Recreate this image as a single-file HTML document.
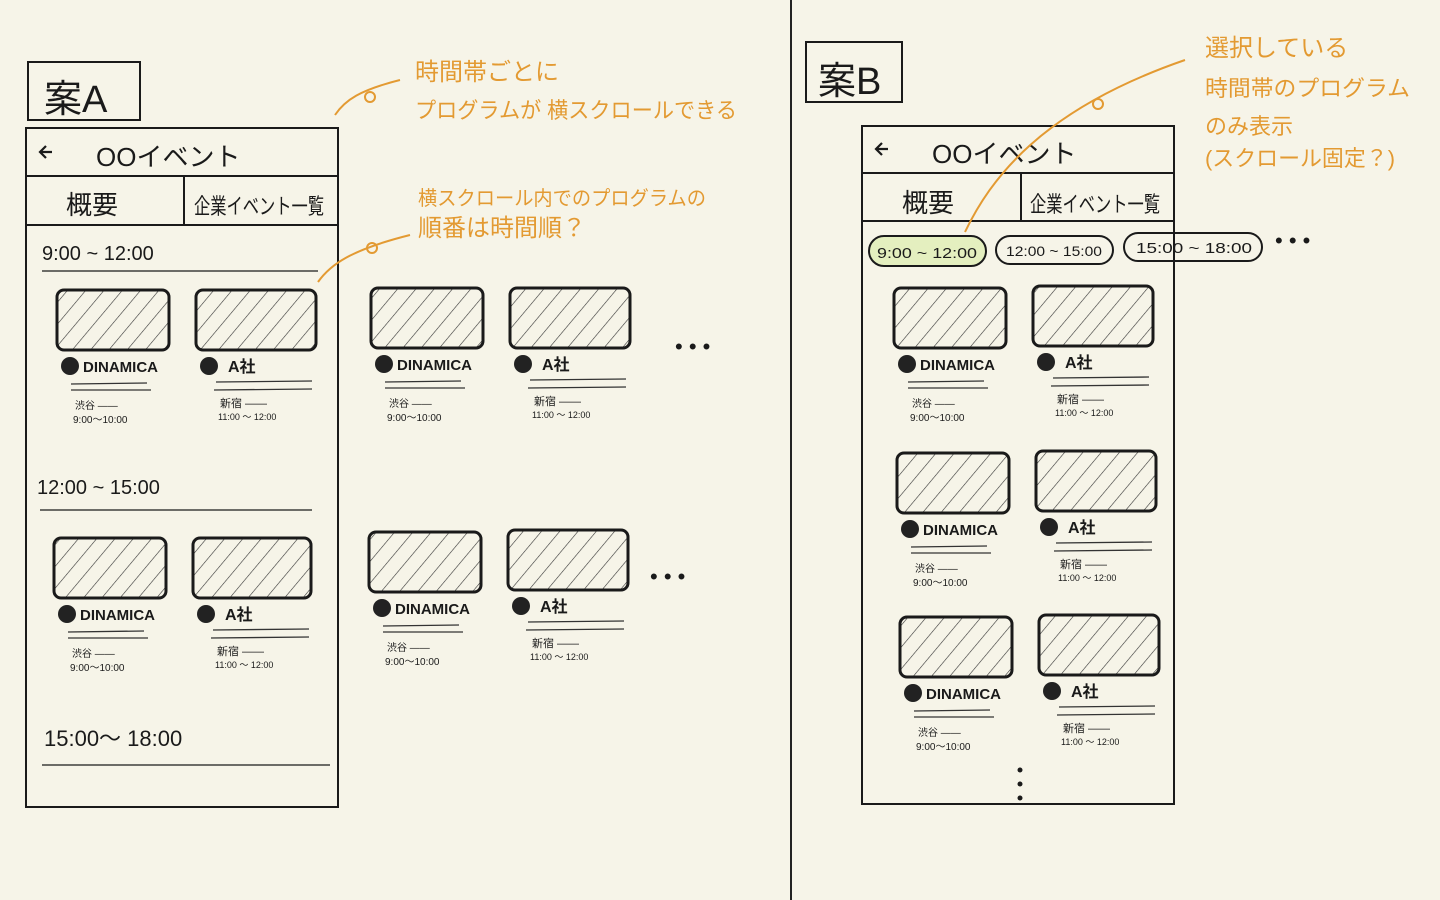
<!DOCTYPE html>
<html><head><meta charset="utf-8"><style>
html,body{margin:0;padding:0;background:#f6f4e8;}
svg{display:block}
text{font-family:"Liberation Sans","Noto Sans CJK JP",sans-serif;fill:#1a1a1a}
.o{fill:#e39a32}
</style></head><body>
<svg id="s" width="1440" height="900" viewBox="0 0 1440 900" xmlns="http://www.w3.org/2000/svg">
<defs>
<pattern id="h" width="14" height="14" patternUnits="userSpaceOnUse" patternTransform="rotate(40)">
<line x1="0" y1="0" x2="0" y2="14" stroke="#333" stroke-width="1.2"/>
</pattern>
</defs>
<rect width="1440" height="900" fill="#f6f4e8"/>
<line x1="791" y1="0" x2="791" y2="900" stroke="#222" stroke-width="2"/>
<g fill="none" stroke="#1a1a1a" stroke-width="2">
<rect x="28" y="62" width="112" height="58"/>
<rect x="26" y="128" width="312" height="679"/>
<line x1="26" y1="176" x2="338" y2="176"/>
<line x1="26" y1="225" x2="338" y2="225"/>
<line x1="184" y1="176" x2="184" y2="225"/>
<line x1="42" y1="271" x2="318" y2="271" stroke-width="1.2"/>
<line x1="40" y1="510" x2="312" y2="510" stroke-width="1.2"/>
<line x1="42" y1="765" x2="330" y2="765" stroke-width="1.2"/>
<rect x="806" y="42" width="96" height="60"/>
<rect x="862" y="126" width="312" height="678"/>
<line x1="862" y1="173" x2="1174" y2="173"/>
<line x1="862" y1="221" x2="1174" y2="221"/>
<line x1="1021" y1="173" x2="1021" y2="221"/>
<rect x="869" y="236" width="117" height="30" rx="15" fill="#e4efbf"/>
<rect x="996" y="236" width="117" height="28" rx="14"/>
<rect x="1124" y="233" width="138" height="28" rx="14"/>
</g>
<g stroke="#1a1a1a" stroke-width="2.2" fill="none">
<path d="M52 152 L40 152 M46 146 L40 152 L46 158"/>
<path d="M888 149 L876 149 M882 143 L876 149 L882 155"/>
</g>
<text x="44" y="112" font-size="38">案A</text>
<text x="96" y="166" font-size="26">OOイベント</text>
<text x="66" y="214" font-size="26">概要</text>
<text x="194" y="214" font-size="22" textLength="130" lengthAdjust="spacingAndGlyphs">企業イベント一覧</text>
<text x="42" y="260" font-size="20">9:00 ~ 12:00</text>
<text x="37" y="494" font-size="20">12:00 ~ 15:00</text>
<text x="44" y="746" font-size="22">15:00～ 18:00</text>
<text x="818" y="94" font-size="38">案B</text>
<text x="932" y="163" font-size="26">OOイベント</text>
<text x="902" y="212" font-size="26">概要</text>
<text x="1030" y="212" font-size="22" textLength="130" lengthAdjust="spacingAndGlyphs">企業イベント一覧</text>
<text x="877" y="258" font-size="15" textLength="100" lengthAdjust="spacingAndGlyphs">9:00 ~ 12:00</text>
<text x="1006" y="256" font-size="14" textLength="96" lengthAdjust="spacingAndGlyphs">12:00 ~ 15:00</text>
<text x="1136" y="253" font-size="15" textLength="116" lengthAdjust="spacingAndGlyphs">15:00 ~ 18:00</text>
<text x="1275" y="248" font-size="22">• • •</text>
<text x="675" y="354" font-size="22">• • •</text>
<text x="650" y="584" font-size="22">• • •</text>
<g fill="#1a1a1a"><circle cx="1020" cy="770" r="2.5"/><circle cx="1020" cy="784" r="2.5"/><circle cx="1020" cy="798" r="2.5"/></g>
<g stroke="#e39a32" stroke-width="2" fill="none">
<path d="M335 115 C345 100 360 90 400 80"/><circle cx="370" cy="97" r="5"/>
<path d="M318 282 C330 265 350 250 410 235"/><circle cx="372" cy="248" r="5"/>
<path d="M965 232 C990 180 1040 110 1185 60"/><circle cx="1098" cy="104" r="5"/>
</g>
<g font-size="24" class="o">
<text class="o" x="415" y="80">時間帯ごとに</text>
<text class="o" x="415" y="118" font-size="22" textLength="322" lengthAdjust="spacingAndGlyphs">プログラムが 横スクロールできる</text>
<text class="o" x="418" y="205" font-size="20" textLength="288" lengthAdjust="spacingAndGlyphs">横スクロール内でのプログラムの</text>
<text class="o" x="418" y="236" font-size="24">順番は時間順？</text>
<text class="o" x="1205" y="56">選択している</text>
<text class="o" x="1205" y="96" font-size="22" textLength="205" lengthAdjust="spacingAndGlyphs">時間帯のプログラム</text>
<text class="o" x="1205" y="134" font-size="22">のみ表示</text>
<text class="o" x="1205" y="166" font-size="22" textLength="190" lengthAdjust="spacingAndGlyphs">(スクロール固定？)</text>
</g>
<g id="cards"></g>
</svg>
<script>
var cards=[[57,290,112,1],[196,290,120,0],[54,538,112,1],[193,538,118,0],[371,288,112,1],[510,288,120,0],[369,532,112,1],[508,530,120,0],
[894,288,112,1],[1033,286,120,0],[897,453,112,1],[1036,451,120,0],[900,617,112,1],[1039,615,120,0]];
var g=document.getElementById('cards'),h='';
cards.forEach(function(c){var x=c[0],y=c[1],w=c[2];
h+='<rect x="'+x+'" y="'+y+'" width="'+w+'" height="60" rx="7" fill="url(#h)" stroke="#1a1a1a" stroke-width="3"/>';
h+='<circle cx="'+(x+13)+'" cy="'+(y+76)+'" r="9" fill="#222"/>';
if(c[3]){h+='<text x="'+(x+26)+'" y="'+(y+82)+'" font-size="15" font-weight="bold">DINAMICA</text>';
h+='<path d="M'+(x+14)+' '+(y+94)+' L'+(x+90)+' '+(y+93)+' M'+(x+14)+' '+(y+100)+' L'+(x+94)+' '+(y+100)+'" stroke="#333" stroke-width="1.3" fill="none"/>';
h+='<text x="'+(x+18)+'" y="'+(y+119)+'" font-size="10">渋谷 ——</text><text x="'+(x+16)+'" y="'+(y+133)+'" font-size="10">9:00～10:00</text>';}
else{h+='<text x="'+(x+32)+'" y="'+(y+82)+'" font-size="16" font-weight="bold">A社</text>';
h+='<path d="M'+(x+20)+' '+(y+92)+' L'+(x+116)+' '+(y+91)+' M'+(x+18)+' '+(y+100)+' L'+(x+116)+' '+(y+99)+'" stroke="#333" stroke-width="1.3" fill="none"/>';
h+='<text x="'+(x+24)+'" y="'+(y+117)+'" font-size="11">新宿 ——</text><text x="'+(x+22)+'" y="'+(y+130)+'" font-size="9">11:00 ～ 12:00</text>';}
});
g.innerHTML=h;
</script>
</body></html>
